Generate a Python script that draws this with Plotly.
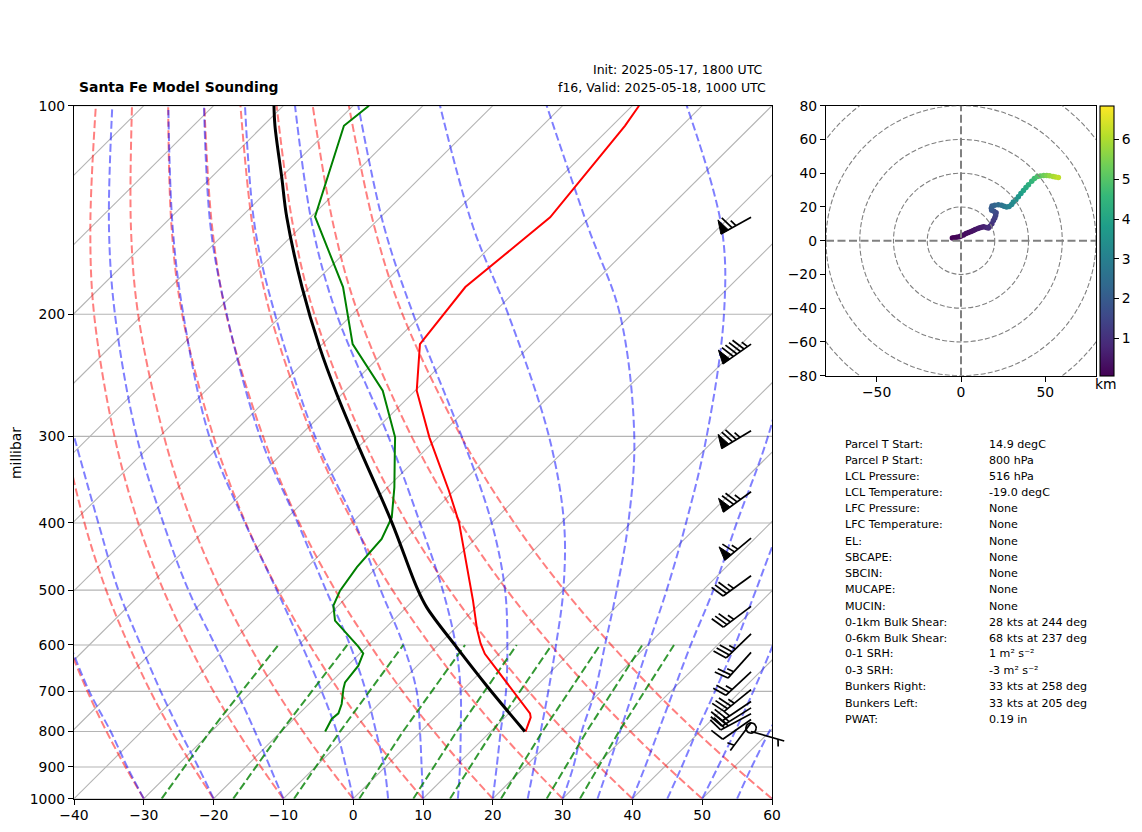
# Skew-T sounding with hodograph and parameter table
import math
import plotly.graph_objects as go

# the page body keeps its 8px margin, so the figure is that much smaller
PAGE_MARGIN = 8
FIG_W = 1142 - PAGE_MARGIN
FIG_H = 832 - PAGE_MARGIN
FONT = "DejaVu Sans, Liberation Sans, sans-serif"

# degC added per decade of pressure by the skew
SKEW = 100.0

# sounding profiles
temp_p = [800, 792.6, 784.4, 763.3, 753.2, 714.3, 653.4, 617.9, 597.6, 568.6, 517.9, 453.6, 399.6, 359.4, 323.2, 301, 257.8, 220.8, 182.7, 144.9, 106.9, 100]
temp_t = [15.0, 14.75, 14.37, 13.7, 13.02, 8.98, 2.27, -2.05, -4.1, -6.79, -11.41, -18.23, -24.67, -30.73, -37.06, -41.23, -49.77, -56.04, -57.76, -55.68, -58.17, -59.05]

dewp_p = [800, 767.3, 753, 730, 694.3, 679.4, 642.7, 617.2, 603.4, 585.1, 553.4, 526.5, 501, 463.3, 421.9, 392.7, 355.4, 314.9, 301, 257.8, 220.8, 182.7, 144.6, 106.9, 100]
dewp_t = [-13.71, -14.58, -14.44, -15.32, -17.25, -17.96, -18.46, -19.52, -21.2, -23.73, -28.3, -30.7, -31.9, -32.88, -33.4, -35.07, -39.03, -44.22, -46.14, -54.64, -65.68, -75.28, -89.45, -98.43, -97.74]

parcel_p = [800, 687, 604.9, 529.6, 495.5, 399.2, 313.6, 260.6, 223.4, 182.7, 144.9, 126.9, 106.9, 100]
parcel_t = [14.9, 2.82, -7.0, -17.07, -21.39, -34.35, -49.39, -60.76, -69.88, -81.16, -93.41, -99.89, -108.31, -111.35]

# background lines
isotherms = list(range(-140, 70, 10))
pressure_ticks = [100, 200, 300, 400, 500, 600, 700, 800, 900, 1000]
x_ticks = list(range(-40, 70, 10))

line_levels = [1000, 900, 800, 700, 600, 500, 400, 300, 200, 150, 100]

dry_adiabats = [
    [-30, -37.2, -45.03, -53.57, -63.0, -73.7, -85.99, -100.68, -119.65, -131.68, -147.23],
    [-20, -27.5, -35.64, -44.54, -54.36, -65.5, -78.29, -93.59, -113.34, -125.87, -142.05],
    [-10, -17.79, -26.26, -35.51, -45.71, -57.29, -70.6, -86.49, -107.02, -120.05, -136.87],
    [0, -8.09, -16.88, -26.48, -37.07, -49.09, -62.9, -79.4, -100.71, -114.23, -131.69],
    [10, 1.61, -7.5, -17.45, -28.43, -40.89, -55.2, -72.31, -94.4, -108.41, -126.51],
    [20, 11.32, 1.88, -8.42, -19.78, -32.68, -47.51, -65.21, -88.08, -102.59, -121.33],
    [30, 21.02, 11.27, 0.61, -11.14, -24.48, -39.81, -58.12, -81.77, -96.78, -116.15],
    [40, 30.73, 20.65, 9.64, -2.5, -16.28, -32.11, -51.03, -75.46, -90.96, -110.97],
    [50, 40.43, 30.03, 18.68, 6.15, -8.08, -24.42, -43.93, -69.15, -85.14, -105.8],
    [60, 50.13, 39.41, 27.71, 14.79, 0.13, -16.72, -36.84, -62.83, -79.32, -100.62],
]

moist_adiabats = [
    [-30, -36.94, -44.43, -53.3, -62.75],
    [-20, -26.77, -34.5, -43.07, -52.62, -63.75, -76.31, -92.29],
    [-10, -16.5, -23.76, -32.18, -41.98, -53.72, -67.0, -83.31, -104.03, -117.38, -134.51],
    [0, -5.61, -12.05, -20.0, -29.56, -41.06, -55.29, -72.91, -94.24, -108.25, -126.49],
    [5, -0.12, -6.42, -13.66, -22.64, -34.0, -47.74, -65.64, -88.02, -102.81, -121.38],
    [10, 5.23, -0.12, -6.39, -15.0, -26.16, -39.53, -57.76, -81.1, -96.46, -115.5],
    [15, 10.72, 5.71, -0.09, -7.5, -17.28, -30.22, -47.26, -72.26, -88.19, -108.34],
    [20, 15.98, 11.44, 6.4, -0.1, -8.35, -19.95, -36.75, -61.29, -77.93, -99.27],
    [25, 21.32, 17.17, 12.46, 6.87, 0, -9.59, -24.24, -47.68, -65.18, -87.56],
    [30, 26.95, 23.05, 19.15, 13.89, 7.65, -0.38, -12.02, -31.68, -48.71, -72.28],
    [35, 31.97, 28.53, 24.64, 20.1, 14.81, 7.89, -1.65, -16.78, -29.6, -52.22],
    [40, 37.23, 34.02, 30.37, 26.17, 21.49, 15.15, 7.14, -6],
    [45, 42.48, 39.52, 36.34, 32.52, 27.6, 21.6, 15],
    [50, 47.68, 45.01, 41.83, 37.96, 33.2],
    [55, 52.51, 49.92, 47.09],
    [60, 58],
]

mixing_levels = [1000, 800, 600]
mixing_lines = [
    [-27.44, -30.21, -32.91],
    [-17.18, -20.03, -23.03],
    [-8.48, -11.58, -15.0],
    [0.87, -2.56, -6.16],
    [8.61, 5.12, 1.24],
    [13.87, 10.27, 6.26],
    [21.17, 17.42, 13.18],
    [27.72, 23.75, 19.24],
    [32.49, 28.39, 23.78],
]

# wind barbs up the right side
barb_p = [144.9, 220.8, 294.4, 360.6, 420.6, 476.7, 527.9, 578.4, 615.1, 655.9, 696.1, 723.9, 739.5, 754.1, 768.6, 777.2, 790.7, 799.8]
barb_speed = [65, 95, 75, 75, 65, 35, 35, 35, 25, 25, 35, 25, 25, 25, 10, 5, 0, 5]
barb_dir = [241, 235, 239, 234, 230, 234, 233, 226, 222, 227, 231, 236, 238, 242, 235, 217, 0, 106]
BARB_X = 57.0

# hodograph
hodo_u = [-5.1, -4, -2.5, -1, 0, 1.5, 3, 4.5, 6, 7.3, 8.5, 10, 11.2, 12.3, 13.5, 15, 16.2, 17.2, 18.3, 19.2, 20, 20.5, 20.8, 19.5, 18.2, 18, 18.4, 20, 22.1, 24, 25.5, 27, 28.5, 30, 31, 32.5, 34, 35.5, 37, 38.5, 40, 41.9, 43.5, 45.3, 47, 49, 50.8, 52.5, 54.5, 56, 57.7]
hodo_v = [1.6, 1.7, 2, 2.4, 2.8, 3.4, 4.2, 4.9, 5.5, 6.1, 6.6, 7.2, 7.7, 7.9, 8.2, 7.8, 7.5, 8.6, 10, 12, 13.5, 15, 16.6, 17.5, 18, 19.3, 20.6, 21, 21.3, 21, 20.4, 20, 20.3, 21.5, 22.9, 24.3, 26, 28, 29.8, 31.5, 33.2, 35.2, 36.8, 38.1, 38.4, 38.7, 38.7, 38.5, 38.1, 37.8, 37.5]
hodo_km = [0.08, 0.1, 0.13, 0.17, 0.2, 0.24, 0.29, 0.33, 0.37, 0.4, 0.44, 0.5, 0.55, 0.6, 0.66, 0.75, 0.85, 0.93, 1.05, 1.2, 1.3, 1.4, 1.5, 1.65, 1.8, 1.95, 2.1, 2.25, 2.4, 2.6, 2.75, 2.9, 3.05, 3.2, 3.3, 3.45, 3.6, 3.8, 4.0, 4.15, 4.3, 4.5, 4.7, 4.9, 5.1, 5.3, 5.5, 5.7, 5.9, 6.05, 6.2]
hodo_rings = [20, 40, 60, 80, 100]
hodo_y_ticks = [-80, -60, -40, -20, 0, 20, 40, 60, 80]
hodo_x_ticks = [-50, 0, 50]

# parameter table
table_labels = ["Parcel T Start:", "Parcel P Start:", "LCL Pressure:", "LCL Temperature:", "LFC Pressure:", "LFC Temperature:", "EL:", "SBCAPE:", "SBCIN:", "MUCAPE:", "MUCIN:", "0-1km Bulk Shear:", "0-6km Bulk Shear:", "0-1 SRH:", "0-3 SRH:", "Bunkers Right:", "Bunkers Left:", "PWAT:"]
table_values = ["14.9 degC", "800 hPa", "516 hPa", "-19.0 degC", "None", "None", "None", "None", "None", "None", "None", "28 kts at 244 deg", "68 kts at 237 deg", "1 m² s⁻²", "-3 m² s⁻²", "33 kts at 258 deg", "33 kts at 205 deg", "0.19 in"]
table_rows = [444.3, 460.3, 476.3, 492.3, 508.3, 524.3, 541, 557.3, 573.3, 589.3, 606, 622.3, 638.3, 653.5, 670, 686.7, 703.3, 719.3]

# axes boxes in window pixels
SKEW_BOX = (74, 772, 105.7, 798.7)
HODO_BOX = (826, 1096, 105.7, 375.7)
# barbs get a wider hidden x axis so the lowest one can leave the frame
BARB_RIGHT = 800


def skewed(t, p):
    return t + SKEW * math.log10(1000.0 / p)


def px_x(px):
    return (px - PAGE_MARGIN) / FIG_W


def px_y(py):
    return 1 - (py - PAGE_MARGIN) / FIG_H


PX_PER_DEG = (SKEW_BOX[1] - SKEW_BOX[0]) / 100.0
PX_PER_DECADE = SKEW_BOX[3] - SKEW_BOX[2]


def offset(p, dx_px, dy_px):
    # move a barb point by screen pixels, in data units of the skew axes
    return BARB_X + dx_px / PX_PER_DEG, p * 10 ** (dy_px / PX_PER_DECADE)


fig = go.Figure()

# isobars as a trace, the axis grid would run on under the wider barb axis
bar_x = []
bar_y = []
for p in pressure_ticks:
    bar_x += [x_ticks[0], x_ticks[-1], None]
    bar_y += [p, p, None]
fig.add_trace(go.Scatter(x=bar_x, y=bar_y, mode="lines", line=dict(color="#b4b4b4", width=1.1)))

# isotherms
iso_x = []
iso_y = []
for t in isotherms:
    iso_x += [skewed(t, 1000), skewed(t, 100), None]
    iso_y += [1000, 100, None]
fig.add_trace(go.Scatter(x=iso_x, y=iso_y, mode="lines", line=dict(color="#b4b4b4", width=1.1)))

for row in dry_adiabats:
    fig.add_trace(go.Scatter(x=[skewed(t, p) for t, p in zip(row, line_levels)], y=line_levels[:len(row)], mode="lines",
                             line=dict(color="rgba(255,0,0,0.5)", width=2, dash="8px,3.5px", shape="spline")))
for row in moist_adiabats:
    fig.add_trace(go.Scatter(x=[skewed(t, p) for t, p in zip(row, line_levels)], y=line_levels[:len(row)], mode="lines",
                             line=dict(color="rgba(0,0,255,0.5)", width=2, dash="8px,3.5px", shape="spline")))
for row in mixing_lines:
    fig.add_trace(go.Scatter(x=[skewed(t, p) for t, p in zip(row, mixing_levels)], y=mixing_levels, mode="lines",
                             line=dict(color="rgba(0,128,0,0.8)", width=2, dash="8px,3.5px")))

# profiles
fig.add_trace(go.Scatter(x=[skewed(t, p) for t, p in zip(temp_t, temp_p)], y=temp_p, mode="lines", line=dict(color="#ff0000", width=2)))
fig.add_trace(go.Scatter(x=[skewed(t, p) for t, p in zip(dewp_t, dewp_p)], y=dewp_p, mode="lines", line=dict(color="#008000", width=2)))
fig.add_trace(go.Scatter(x=[skewed(t, p) for t, p in zip(parcel_t, parcel_p)], y=parcel_p, mode="lines", line=dict(color="#000000", width=3, shape="spline")))

# barbs, same proportions as matplotlib's
BARB_LEN = 34.5
FULL_H = BARB_LEN * 0.4
FULL_W = BARB_LEN * 0.25
SPACING = BARB_LEN * 0.125
RADIUS = BARB_LEN * 0.15

line_x = []
line_y = []
flag_x = []
flag_y = []
for p, speed, direction in zip(barb_p, barb_speed, barb_dir):
    if speed == 0:
        # calm wind is an empty circle
        for deg in range(0, 375, 15):
            bx, by = offset(p, RADIUS * math.cos(math.radians(deg)), RADIUS * math.sin(math.radians(deg)))
            line_x.append(bx)
            line_y.append(by)
        line_x.append(None)
        line_y.append(None)
        continue
    # s runs along the staff from the tip, n is the side the barbs sit on
    sx = math.sin(math.radians(direction))
    sy = -math.cos(math.radians(direction))
    nx = -sy
    ny = sx
    def pt(along, across):
        return offset(p, sx * along + nx * across, sy * along + ny * across)
    tip = pt(0, 0)
    end = pt(BARB_LEN, 0)
    line_x += [tip[0], end[0], None]
    line_y += [tip[1], end[1], None]
    flags = speed // 50
    fulls = (speed % 50) // 10
    halves = (speed % 10) // 5
    pos = BARB_LEN
    for i in range(flags):
        a = pt(pos, 0)
        b = pt(pos - FULL_W / 2, FULL_H)
        c = pt(pos - FULL_W, 0)
        flag_x += [a[0], b[0], c[0], a[0], None]
        flag_y += [a[1], b[1], c[1], a[1], None]
        pos -= FULL_W + SPACING
    for i in range(fulls):
        a = pt(pos, 0)
        b = pt(pos + FULL_W / 2, FULL_H)
        line_x += [a[0], b[0], None]
        line_y += [a[1], b[1], None]
        pos -= SPACING
    for i in range(halves):
        if pos == BARB_LEN:
            pos -= 1.5 * SPACING
        a = pt(pos, 0)
        b = pt(pos + FULL_W / 4, FULL_H / 2)
        line_x += [a[0], b[0], None]
        line_y += [a[1], b[1], None]
        pos -= SPACING

fig.add_trace(go.Scatter(x=line_x, y=line_y, xaxis="x3", yaxis="y", mode="lines", line=dict(color="#000000", width=1.7)))
fig.add_trace(go.Scatter(x=flag_x, y=flag_y, xaxis="x3", yaxis="y", mode="lines", fill="toself", fillcolor="#000000", line=dict(color="#000000", width=1)))

# hodograph
for r in hodo_rings:
    fig.add_shape(type="circle", xref="x2", yref="y2", x0=-r, x1=r, y0=-r, y1=r, line=dict(color="#808080", width=1.1, dash="5px,2.2px"))
fig.add_shape(type="line", xref="x2", yref="y2", x0=-80, x1=80, y0=0, y1=0, line=dict(color="#808080", width=2, dash="8px,3.5px"))
fig.add_shape(type="line", xref="x2", yref="y2", x0=0, x1=0, y0=-80, y1=80, line=dict(color="#808080", width=2, dash="8px,3.5px"))

fig.add_trace(go.Scatter(x=hodo_u, y=hodo_v, xaxis="x2", yaxis="y2", mode="markers",
                         marker=dict(size=5.5, color=hodo_km, colorscale="Viridis", cmin=0.06, cmax=6.85,
                                     colorbar=dict(x=px_x(1100), xanchor="left", y=px_y(240.7), yanchor="middle",
                                                   len=270 / FIG_H, lenmode="fraction", thickness=14, xpad=0, ypad=0,
                                                   outlinecolor="#000000", outlinewidth=1.1,
                                                   tickvals=[1, 2, 3, 4, 5, 6], ticks="outside", ticklen=5,
                                                   tickcolor="#000000", tickfont=dict(family=FONT, size=13.9, color="#000000")))))

axis_style = dict(showline=True, mirror=True, linecolor="#000000", linewidth=1.3, ticks="outside", ticklen=5,
                  tickwidth=1.1, tickcolor="#000000", zeroline=False, tickfont=dict(family=FONT, size=13.9, color="#000000"))

fig.update_layout(
    width=FIG_W,
    height=FIG_H,
    autosize=False,
    margin=dict(l=0, r=0, t=0, b=0, autoexpand=False),
    paper_bgcolor="#ffffff",
    plot_bgcolor="rgba(0,0,0,0)",
    showlegend=False,
    hovermode=False,
    font=dict(family=FONT, color="#000000"),
    xaxis=dict(domain=[px_x(SKEW_BOX[0]), px_x(SKEW_BOX[1])], range=[-40, 60], tickvals=x_ticks, showgrid=False, ticklabelstandoff=-2, **axis_style),
    yaxis=dict(domain=[px_y(SKEW_BOX[3]), px_y(SKEW_BOX[2])], type="log", range=[3, 2], tickvals=pressure_ticks,
               ticktext=[str(p) for p in pressure_ticks], showgrid=False, **axis_style),
    xaxis2=dict(domain=[px_x(HODO_BOX[0]), px_x(HODO_BOX[1])], range=[-80, 80], tickvals=hodo_x_ticks, showgrid=False, anchor="y2", ticklabelstandoff=-2, **axis_style),
    yaxis2=dict(domain=[px_y(HODO_BOX[3]), px_y(HODO_BOX[2])], range=[-80, 80], tickvals=hodo_y_ticks, showgrid=False, anchor="x2", **axis_style),
    xaxis3=dict(domain=[px_x(SKEW_BOX[0]), px_x(BARB_RIGHT)], range=[-40, 60 + (BARB_RIGHT - SKEW_BOX[1]) / PX_PER_DEG], anchor="y", visible=False),
)

fig.add_annotation(text="<b>Santa Fe Model Sounding</b>", xref="paper", yref="paper", x=px_x(77), y=px_y(87.5), xanchor="left", yanchor="middle",
                   showarrow=False, font=dict(family=FONT, size=13.9))
fig.add_annotation(text="Init: 2025-05-17, 1800 UTC", xref="paper", yref="paper", x=px_x(765), y=px_y(70), xanchor="right", yanchor="middle",
                   showarrow=False, font=dict(family=FONT, size=12.5))
fig.add_annotation(text="f16, Valid: 2025-05-18, 1000 UTC", xref="paper", yref="paper", x=px_x(768), y=px_y(88), xanchor="right", yanchor="middle",
                   showarrow=False, font=dict(family=FONT, size=12.5))
fig.add_annotation(text="millibar", xref="paper", yref="paper", x=px_x(16), y=px_y(453), xanchor="center", yanchor="middle", textangle=-90,
                   showarrow=False, font=dict(family=FONT, size=13.9))
fig.add_annotation(text="km", xref="paper", yref="paper", x=px_x(1106), y=px_y(384), xanchor="center", yanchor="middle",
                   showarrow=False, font=dict(family=FONT, size=13.9))

for label, value, row in zip(table_labels, table_values, table_rows):
    fig.add_annotation(text=label, xref="paper", yref="paper", x=px_x(843), y=px_y(row), xanchor="left", yanchor="middle",
                       showarrow=False, font=dict(family=FONT, size=11.1))
    fig.add_annotation(text=value, xref="paper", yref="paper", x=px_x(987), y=px_y(row), xanchor="left", yanchor="middle",
                       showarrow=False, font=dict(family=FONT, size=11.1))

fig.write_html("out.html")
